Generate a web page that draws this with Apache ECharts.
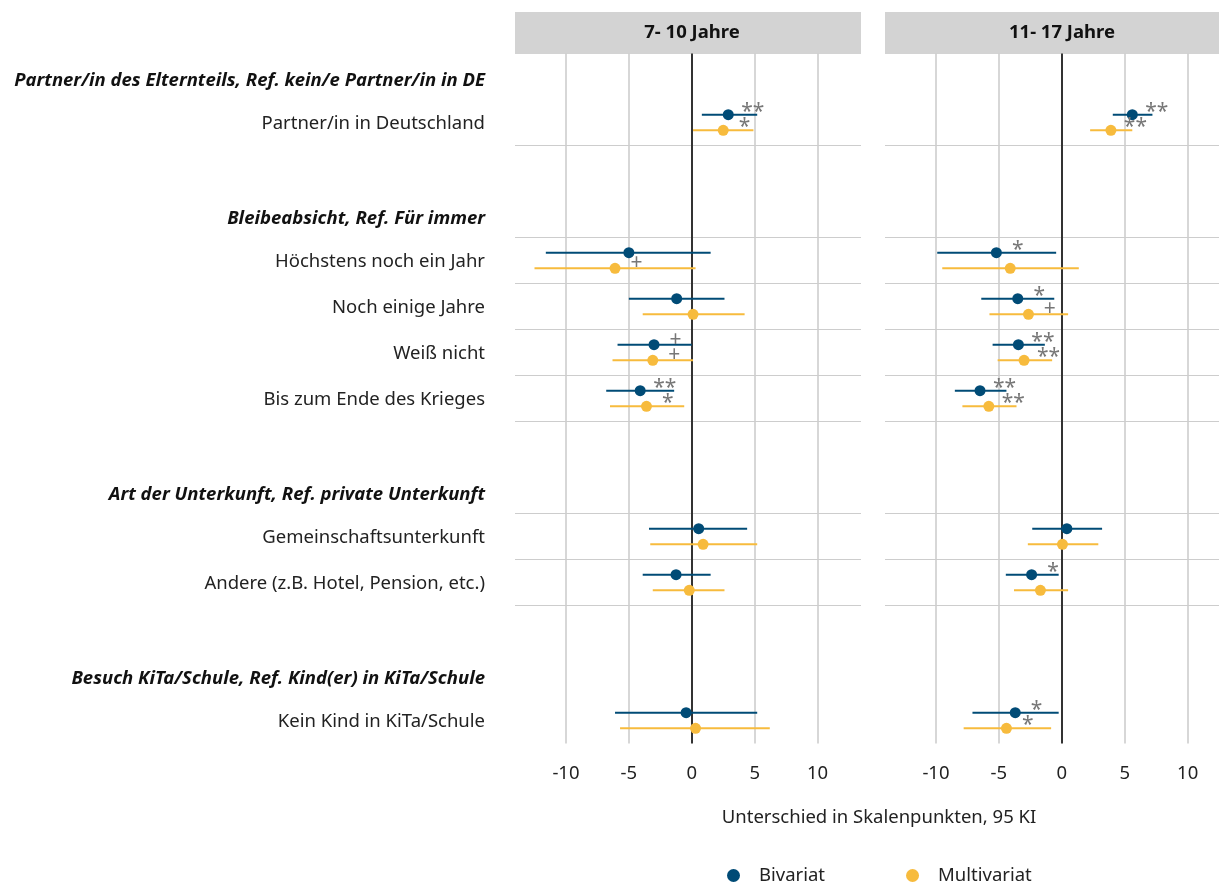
<!DOCTYPE html>
<html>
<head>
<meta charset="utf-8">
<script src="https://cdn.jsdelivr.net/npm/echarts@6/dist/echarts.min.js"></script>
<style>
html,body{margin:0;padding:0;background:#fff;}
#chart{width:1219px;height:882px;}
</style>
</head>
<body>
<div id="chart"></div>
<script>
// ---------- data ----------
const panels = ["7- 10 Jahre", "11- 17 Jahre"];
const groupHeaders = [
  "Partner/in des Elternteils, Ref. kein/e Partner/in in DE",
  "Bleibeabsicht, Ref. Für immer",
  "Art der Unterkunft, Ref. private Unterkunft",
  "Besuch KiTa/Schule, Ref. Kind(er) in KiTa/Schule"
];
const items = [
  "Partner/in in Deutschland",
  "Höchstens noch ein Jahr",
  "Noch einige Jahre",
  "Weiß nicht",
  "Bis zum Ende des Krieges",
  "Gemeinschaftsunterkunft",
  "Andere (z.B. Hotel, Pension, etc.)",
  "Kein Kind in KiTa/Schule"
];
const itemGroup = [0, 1, 1, 1, 1, 2, 2, 3];
const seriesNames = ["Bivariat", "Multivariat"];
const xTicks = [-10, -5, 0, 5, 10];

// 7-10 Jahre
const youngBivEst  = [2.9, -5.0, -1.2, -3.0, -4.1, 0.55, -1.25, -0.45];
const youngBivLo   = [0.8, -11.6, -5.0, -5.9, -6.8, -3.4, -3.9, -6.1];
const youngBivHi   = [5.2, 1.5, 2.6, 0.0, -1.4, 4.4, 1.5, 5.2];
const youngBivSig  = ["**", "", "", "+", "**", "", "", ""];
const youngMultEst = [2.5, -6.1, 0.1, -3.1, -3.6, 0.9, -0.2, 0.3];
const youngMultLo  = [0.1, -12.5, -3.9, -6.3, -6.5, -3.3, -3.1, -5.7];
const youngMultHi  = [4.9, 0.3, 4.2, 0.1, -0.6, 5.2, 2.6, 6.2];
const youngMultSig = ["*", "+", "", "+", "*", "", "", ""];

// 11-17 Jahre
const oldBivEst  = [5.6, -5.2, -3.5, -3.45, -6.5, 0.4, -2.4, -3.7];
const oldBivLo   = [4.05, -9.9, -6.4, -5.5, -8.5, -2.35, -4.45, -7.1];
const oldBivHi   = [7.2, -0.45, -0.6, -1.35, -4.4, 3.2, -0.25, -0.25];
const oldBivSig  = ["**", "*", "*", "**", "**", "", "*", "*"];
const oldMultEst = [3.9, -4.1, -2.65, -3.0, -5.8, 0.05, -1.7, -4.4];
const oldMultLo  = [2.25, -9.5, -5.75, -5.1, -7.9, -2.7, -3.8, -7.8];
const oldMultHi  = [5.6, 1.35, 0.5, -0.77, -3.6, 2.9, 0.5, -0.85];
const oldMultSig = ["**", "", "+", "**", "**", "", "", "*"];

// ---------- layout helpers ----------
const FONT = "Noto Sans";
const FS = 18.5;
const COLORS = ["#004B76", "#F7BB3D"];
const DODGE = [-0.17, 0.17];

// row positions: header row, item rows, blank row
const rowLabel = {};
const itemRow = [];
let r = -1;
groupHeaders.forEach((h, g) => {
  rowLabel[r] = "{h|" + h + "}";
  let k = r + 1;
  items.forEach((it, i) => {
    if (itemGroup[i] === g) { itemRow[i] = k; rowLabel[k] = "{i|" + it + "}"; k++; }
  });
  r = k + 1;
});
const labelRows = Object.keys(rowLabel).map(Number);
const hLines = [0.5, 2.5, 3.5, 4.5, 5.5, 6.5, 8.5, 9.5, 10.5];

const panelData = [
  [[youngBivEst, youngBivLo, youngBivHi, youngBivSig], [youngMultEst, youngMultLo, youngMultHi, youngMultSig]],
  [[oldBivEst, oldBivLo, oldBivHi, oldBivSig], [oldMultEst, oldMultLo, oldMultHi, oldMultSig]]
];

// both panels share 12.585 px per unit; right panel is cut by the page edge
const grids = [
  {left: 515, top: 53.5, width: 346, height: 690},
  {left: 885, top: 53.5, width: 334, height: 690}
];
const xRanges = [[-14.05, 13.45], [-14.05, 12.49]];

const xAxes = grids.map((g, p) => ({
  type: 'value', gridIndex: p, min: xRanges[p][0], max: xRanges[p][1],
  axisLine: {show: false}, axisTick: {show: false}, splitLine: {show: false},
  axisLabel: {customValues: xTicks, fontFamily: FONT, fontSize: FS, color: '#222', margin: 21}
}));

const yAxes = grids.map((g, p) => ({
  type: 'value', gridIndex: p, inverse: true, min: -1.5, max: 13.5,
  axisLine: {show: false}, axisTick: {show: false}, splitLine: {show: false},
  axisLabel: p === 0 ? {
    show: true, customValues: labelRows, margin: 30,
    formatter: v => rowLabel[v] || '',
    rich: {
      h: {fontFamily: FONT, fontSize: FS, fontWeight: 'bold', fontStyle: 'italic', color: '#111', padding: [9, 0, 0, 0]},
      i: {fontFamily: FONT, fontSize: FS, color: '#222', padding: [2, 0, 0, 0]}
    }
  } : {show: false}
}));

const series = [];
// grid lines
grids.forEach((g, p) => {
  series.push({
    type: 'line', xAxisIndex: p, yAxisIndex: p, data: [], silent: true, z: 1,
    markLine: {
      symbol: 'none', silent: true, animation: false, label: {show: false},
      data: [
        ...xTicks.filter(t => t !== 0).map(t => ({xAxis: t, lineStyle: {color: '#CDCDCD', width: 1.6, type: 'solid'}})),
        ...hLines.map(y => ({yAxis: y, lineStyle: {color: '#CDCDCD', width: 1.2, type: 'solid'}})),
        {xAxis: 0, lineStyle: {color: '#333333', width: 2, type: 'solid'}}
      ]
    }
  });
});

// estimates
panelData.forEach((pd, p) => {
  pd.forEach((arr, m) => {
    const [est, lo, hi, sig] = arr;
    const data = est.map((e, i) => [e, itemRow[i] + DODGE[m], lo[i], hi[i], sig[i]]);
    series.push({
      type: 'custom', name: seriesNames[m], xAxisIndex: p, yAxisIndex: p, z: 5,
      itemStyle: {color: COLORS[m]},
      clip: false,
      data: data,
      encode: {x: 0, y: 1},
      renderItem: function (params, api) {
        const e = api.value(0), y = api.value(1), l = api.value(2), h = api.value(3);
        const s = data[params.dataIndex][4];
        const pE = api.coord([e, y]);
        const pL = api.coord([l, y]);
        const pH = api.coord([h, y]);
        const children = [
          {type: 'line', shape: {x1: pL[0], y1: pL[1], x2: pH[0], y2: pH[1]},
           style: {stroke: COLORS[m], lineWidth: 2}},
          {type: 'circle', shape: {cx: pE[0], cy: pE[1], r: 5.5},
           style: {fill: COLORS[m]}}
        ];
        if (s) {
          const off = s.length > 1 ? 1.95 : 1.7;
          const pS = api.coord([e + off, y]);
          children.push({type: 'text', x: pS[0], y: pS[1] - (s === '+' ? 5 : 3),
            style: {text: s, fill: '#777', font: '21px "' + FONT + '"', align: 'center', verticalAlign: 'middle'}});
        }
        return {type: 'group', children: children};
      }
    });
  });
});

const chart = echarts.init(document.getElementById('chart'), null, {renderer: 'canvas'});
chart.setOption({
  animation: false,
  backgroundColor: '#fff',
  grid: grids,
  xAxis: xAxes,
  yAxis: yAxes,
  series: series,
  legend: {
    data: seriesNames, left: 722, top: 861, icon: 'circle', itemWidth: 13, itemHeight: 13, itemGap: 81,
    textStyle: {fontFamily: FONT, fontSize: FS, color: '#222', padding: [0, 0, 0, 14]}
  },
  graphic: [
    {type: 'rect', left: 515, top: 12, shape: {width: 346, height: 42}, style: {fill: '#D3D3D3'}, silent: true},
    {type: 'rect', left: 885, top: 12, shape: {width: 346, height: 42}, style: {fill: '#D3D3D3'}, silent: true},
    {type: 'text', x: 692, y: 33, style: {text: panels[0], font: 'bold ' + FS + 'px "' + FONT + '"', fill: '#111', align: 'center', verticalAlign: 'middle'}},
    {type: 'text', x: 1062, y: 33, style: {text: panels[1], font: 'bold ' + FS + 'px "' + FONT + '"', fill: '#111', align: 'center', verticalAlign: 'middle'}},
    {type: 'text', x: 879, y: 818, style: {text: 'Unterschied in Skalenpunkten, 95 KI', font: FS + 'px "' + FONT + '"', fill: '#222', align: 'center', verticalAlign: 'middle'}}
  ]
});
</script>
</body>
</html>
